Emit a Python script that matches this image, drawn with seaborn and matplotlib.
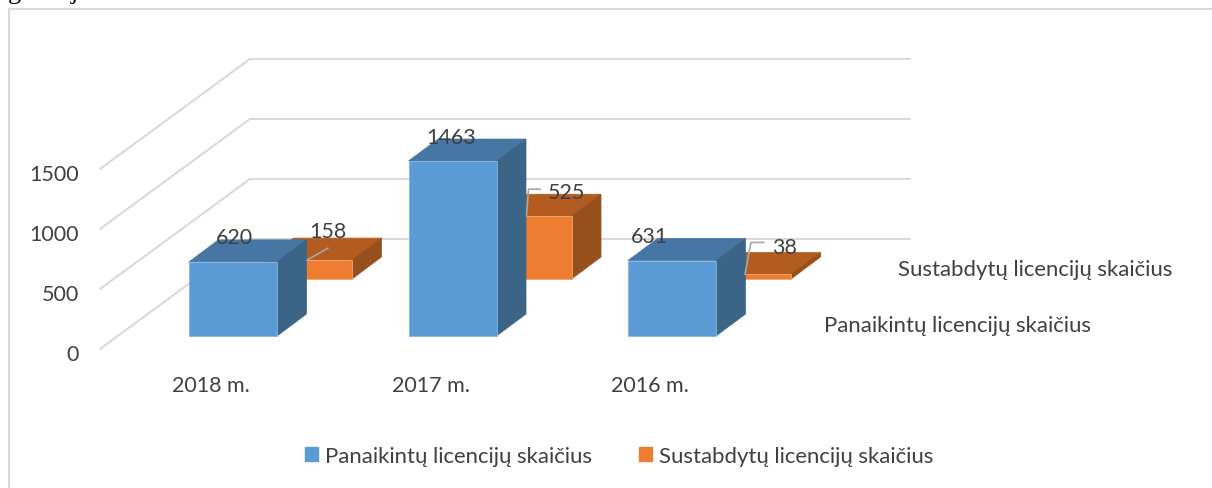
import matplotlib
matplotlib.use('Agg')
import matplotlib.pyplot as plt
from matplotlib.patches import Patch
import seaborn as sns

# duomenys
years = ['2018 m.', '2017 m.', '2016 m.']
panaikintu = [620, 1463, 631]
sustabdytu = [158, 525, 38]
y_ticks = [0, 500, 1000, 1500]
name_p = 'Panaikintų licencijų skaičius'
name_s = 'Sustabdytų licencijų skaičius'

sns.set_theme(style='white')
plt.rcParams['font.family'] = ['Lato', 'DejaVu Sans']

W, H = 1212, 489
PX_X = 219.5   # px per category
PX_Y = 0.1196  # px per value
X0, Y0 = 233, 337  # where category 0 / value 0 sit on the front plane

GREY = '#404040'
LINE = '#D9D9D9'
FS = 15.5
FS_NAME = 15.9

fig = plt.figure(figsize=(W / 100, H / 100), dpi=100)
ax = fig.add_axes([0, 0, 1, 1])


def dx(px):
    return px / PX_X


def dy(px):
    return px / PX_Y


depth_x, depth_y = dx(29.5), dy(22)
back_shift_x, back_shift_y = dx(75), dy(57)
pos = list(range(len(years)))

# orange row stands behind the blue one, same width, partly hidden
sns.barplot(x=[p + back_shift_x for p in pos], y=sustabdytu, native_scale=True, width=dx(88),
            bottom=back_shift_y, color='#ED7D31', saturation=1, edgecolor='#F4A46F', linewidth=0.6, ax=ax)
n_back = len(ax.patches)
sns.barplot(x=pos, y=panaikintu, native_scale=True, width=dx(88),
            color='#5B9BD5', saturation=1, edgecolor='#86B6E2', linewidth=0.6, ax=ax)

# sides and tops for the 3d look
for i, bar in enumerate(list(ax.patches)):
    back = i < n_back
    z = 2 if back else 3
    top_c, side_c = ('#B25C20', '#97501C') if back else ('#4676A3', '#3A6587')
    bar.set_zorder(z + 0.1)
    x, y, w, h = bar.get_x(), bar.get_y(), bar.get_width(), bar.get_height()
    ax.fill([x, x + depth_x, x + w + depth_x, x + w], [y + h, y + h + depth_y, y + h + depth_y, y + h],
            color=top_c, lw=0.5, zorder=z)
    ax.fill([x + w, x + w + depth_x, x + w + depth_x, x + w], [y, y + depth_y, y + h + depth_y, y + h],
            color=side_c, lw=0.5, zorder=z)

# walls
wall_x = dx(250 - X0)
wall_end = dx(910 - X0)
floor_x = dx(100 - X0)
wall_base = dy(Y0 - 240)
floor_base = dy(Y0 - 350)
scale = 0.12 / PX_Y
for t in y_ticks:
    ax.plot([floor_x, wall_x, wall_end], [floor_base + t * scale, wall_base + t * scale, wall_base + t * scale],
            color=LINE, lw=1.5, zorder=1, solid_joinstyle='miter')
    ax.text(dx(79 - X0), floor_base + t * scale - dy(5), str(t), ha='right', va='center',
            fontsize=FS, color=GREY)

for p, lab in zip(pos, years):
    ax.text(p - dx(22), dy(Y0 - 386), lab, ha='center', va='center', fontsize=FS, color=GREY)

# value labels, offsets in px from the top middle of the front face
off_p = [(1, 25), (-1, 24), (-22, 25)]
off_s = [(20, 29), (39, 24), (38, 27)]
for i, v in enumerate(panaikintu):
    ax.annotate(str(v), (pos[i], v), xytext=(off_p[i][0] * 0.72, off_p[i][1] * 0.72), textcoords='offset points',
                ha='center', va='center', fontsize=FS, color=GREY, zorder=6)
for i, v in enumerate(sustabdytu):
    ax.annotate(str(v), (pos[i] + back_shift_x, v + back_shift_y), xytext=(off_s[i][0] * 0.72, off_s[i][1] * 0.72),
                textcoords='offset points', ha='center', va='center', fontsize=FS, color=GREY, zorder=6)

# leader lines, px offsets from the same point
leaders = [[(-1, 0), (20, 12)], [(-1, 1), (1, 27), (13, 27)], [(-2, 0), (4, 32), (17, 32)]]
for i, pts in enumerate(leaders):
    cx, top = pos[i] + back_shift_x, sustabdytu[i] + back_shift_y
    ax.plot([cx + dx(a) for a, b in pts], [top + dy(b) for a, b in pts], color='#A6A6A6', lw=1.2, zorder=5)

# depth axis names
ax.text(dx(898 - X0), dy(Y0 - 270), name_s, ha='left', va='center', fontsize=FS_NAME, color=GREY)
ax.text(dx(824 - X0), dy(Y0 - 326), name_p, ha='left', va='center', fontsize=FS_NAME, color=GREY)

ax.set_xlim(dx(-X0), dx(W - X0))
ax.set_ylim(dy(Y0 - H), dy(Y0))
ax.set_xlabel('')
ax.set_ylabel('')
ax.axis('off')

# chart frame, open at the right and bottom
ax.plot([dx(9 - X0), dx(9 - X0), dx(W - X0)], [dy(Y0 - H), dy(Y0 - 10), dy(Y0 - 10)], color=LINE, lw=1.5, zorder=1)

handles = [Patch(color='#5B9BD5', label=name_p), Patch(color='#ED7D31', label=name_s)]
ax.legend(handles=handles, ncol=2, loc='center', bbox_to_anchor=(619 / W, 1 - 457 / H), frameon=False,
          fontsize=FS_NAME, labelcolor=GREY, handlelength=0.62, handleheight=0.62, handletextpad=0.3, columnspacing=2.1)

# cropped line of the page text above the chart
fig.text(8 / W, 1 + 1 / H, 'g', fontsize=19, family='Liberation Serif', color='black', va='baseline')
fig.text(71 / W, 1 + 1 / H, 'j', fontsize=19, family='Liberation Serif', color='black', va='baseline')

fig.savefig('out.png', dpi=100)
